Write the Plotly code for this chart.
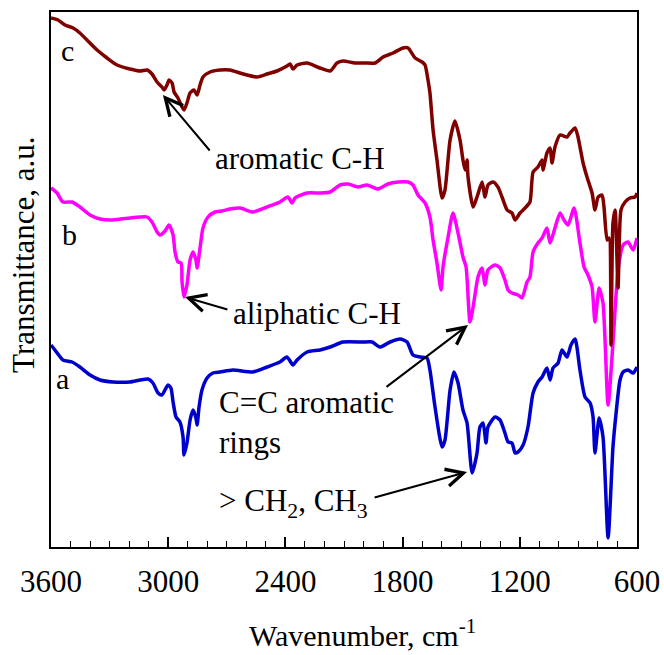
import plotly.graph_objects as go

# ---- data (wavenumber in cm-1, transmittance in a.u.) ----
wn_a = [3600, 3580, 3539, 3492, 3452, 3400, 3349, 3283, 3196, 3144, 3103, 3078, 3052, 3032,
        3001, 2986, 2975, 2960, 2940, 2924, 2919, 2904, 2888, 2873, 2858, 2852, 2842, 2827,
        2801, 2771, 2735, 2668, 2566, 2494, 2428, 2392, 2361, 2340, 2289, 2223, 2171, 2105,
        2003, 1956, 1916, 1864, 1813, 1777, 1747, 1711, 1675, 1660, 1634, 1598, 1583, 1557,
        1537, 1516, 1491, 1470, 1444, 1419, 1404, 1388, 1373, 1363, 1327, 1301, 1276, 1260,
        1240, 1224, 1209, 1183, 1158, 1132, 1107, 1086, 1061, 1045, 1030, 1004, 984, 958,
        938, 917, 892, 866, 840, 825, 815, 794, 774, 748, 723, 707, 687, 671, 646, 620, 600]
t_a = [202, 197, 187, 185, 180, 172, 167, 165, 165, 167, 168, 164, 154, 152,
       162, 159, 145, 130, 125, 110, 92, 104, 127, 137, 129, 122, 140, 157,
       169, 174, 175, 177, 175, 180, 185, 190, 182, 187, 195, 197, 200, 205,
       205, 205, 200, 205, 208, 205, 192, 190, 189, 177, 140, 100, 107, 157,
       175, 164, 137, 124, 74, 94, 120, 124, 104, 120, 130, 127, 114, 105,
       104, 94, 95, 102, 120, 154, 165, 170, 179, 167, 179, 184, 197, 190,
       202, 208, 177, 150, 144, 130, 94, 129, 110, 9, 100, 134, 167, 175, 177, 174, 180]

wn_b = [3600, 3569, 3539, 3492, 3452, 3400, 3349, 3283, 3196, 3144, 3108, 3083, 3057, 3042,
        3016, 2996, 2975, 2965, 2950, 2934, 2929, 2919, 2904, 2888, 2873, 2858, 2852, 2837,
        2822, 2796, 2760, 2724, 2684, 2632, 2566, 2494, 2428, 2387, 2366, 2351, 2289, 2223,
        2171, 2120, 2079, 2028, 1982, 1926, 1875, 1823, 1772, 1747, 1721, 1685, 1660, 1644,
        1624, 1603, 1593, 1567, 1542, 1516, 1491, 1475, 1455, 1439, 1414, 1393, 1378, 1363,
        1327, 1301, 1276, 1260, 1240, 1209, 1189, 1163, 1148, 1132, 1107, 1086, 1061, 1045,
        1020, 994, 974, 953, 922, 892, 871, 851, 830, 815, 794, 774, 748, 723, 697, 671,
        646, 620, 600]
t_b = [359, 354, 345, 345, 340, 332, 328, 327, 329, 330, 330, 325, 315, 312,
       316, 322, 312, 295, 285, 284, 265, 250, 262, 287, 295, 287, 279, 299,
       319, 330, 335, 336, 338, 339, 335, 340, 345, 350, 344, 349, 354, 354,
       355, 362, 363, 360, 362, 358, 363, 365, 365, 362, 352, 344, 330, 307,
       284, 257, 280, 310, 334, 314, 290, 280, 225, 240, 270, 279, 262, 277,
       282, 279, 267, 257, 254, 252, 249, 265, 270, 295, 304, 309, 319, 304,
       319, 334, 327, 322, 339, 304, 280, 272, 260, 225, 259, 244, 142, 204, 277, 302,
       305, 297, 309]

wn_c = [3600, 3564, 3528, 3487, 3452, 3416, 3364, 3313, 3262, 3196, 3144, 3108, 3083, 3057,
        3032, 3021, 3006, 2996, 2980, 2970, 2950, 2929, 2919, 2904, 2888, 2868, 2852, 2837,
        2822, 2786, 2735, 2684, 2632, 2596, 2545, 2494, 2443, 2392, 2376, 2361, 2340, 2289,
        2223, 2171, 2136, 2105, 2044, 1992, 1941, 1900, 1849, 1798, 1772, 1736, 1700, 1685,
        1670, 1660, 1644, 1624, 1598, 1583, 1557, 1532, 1506, 1491, 1480, 1470, 1465, 1439,
        1419, 1393, 1378, 1363, 1337, 1312, 1291, 1265, 1240, 1224, 1199, 1173, 1148, 1132,
        1107, 1086, 1081, 1061, 1045, 1035, 1020, 994, 958, 943, 917, 902, 876, 856, 830,
        815, 799, 779, 769, 753, 743, 733, 723, 712, 697, 682, 661, 636, 610, 600]
t_c = [529, 527, 522, 519, 514, 507, 497, 489, 482, 478, 476, 477, 473, 465,
       460, 457, 462, 467, 464, 455, 449, 440, 437, 444, 454, 457, 452, 462,
       470, 475, 477, 477, 474, 472, 470, 473, 476, 481, 483, 478, 482, 484,
       479, 476, 484, 486, 484, 484, 484, 490, 494, 499, 499, 489, 485, 482,
       467, 454, 417, 387, 349, 357, 407, 426, 407, 387, 377, 387, 370, 340,
       350, 365, 350, 362, 365, 360, 350, 337, 334, 327, 334, 339, 345, 375,
       380, 387, 377, 394, 399, 384, 400, 412, 410, 414, 419, 410, 384, 370, 354,
       337, 350, 352, 340, 307, 309, 202, 324, 337, 259, 337, 345, 349, 350, 354]

series_names = ["a", "b", "c"]
series_colors = ["#0000CC", "#FF00FF", "#800000"]

FONT = "Liberation Serif, Times New Roman, serif"

fig = go.Figure()
for name, xs, ys, col in zip(series_names, [wn_a, wn_b, wn_c], [t_a, t_b, t_c], series_colors):
    fig.add_trace(go.Scatter(x=xs, y=ys, mode="lines", name=name,
                             line=dict(color=col, width=3.5, shape="spline", smoothing=0.6),
                             showlegend=False))

# curve labels
label_pos = {"c": (3518, 497), "b": (3503, 313), "a": (3539, 169)}
for k, (lx, ly) in label_pos.items():
    fig.add_annotation(x=lx, y=ly, text=k, showarrow=False,
                       font=dict(family=FONT, size=30, color="black"),
                       xanchor="center", yanchor="middle")

# text annotations
texts = [
    ("aromatic C-H", 2771, 389),
    ("aliphatic C-H", 2678, 234),
    ("C=C aromatic<br>rings", 2750, 125),
    ("> CH<sub>2</sub>, CH<sub>3</sub>", 2750, 44),
]
for t, tx, ty in texts:
    fig.add_annotation(x=tx, y=ty, text=t, showarrow=False, align="left",
                       font=dict(family=FONT, size=31, color="black"),
                       xanchor="left", yanchor="middle")

# arrows: (head_x, head_y, tail_x, tail_y)
arrows = [
    (3027, 452, 2781, 395),
    (2914, 250, 2689, 237),
    (1465, 222, 1890, 159),
    (1470, 75, 1951, 49),
]
for hx, hy, tx, ty in arrows:
    fig.add_annotation(x=hx, y=hy, ax=tx, ay=ty, axref="x", ayref="y", xref="x", yref="y",
                       text="", showarrow=True, arrowhead=5, arrowsize=1.7,
                       arrowwidth=2, arrowcolor="black")

# axis titles
fig.add_annotation(xref="paper", yref="paper", x=0.531, y=-0.161,
                   text="Wavenumber, cm<sup>-1</sup>", showarrow=False,
                   font=dict(family=FONT, size=30, color="black"),
                   xanchor="center", yanchor="middle")
fig.add_annotation(xref="paper", yref="paper", x=-0.046, y=0.546,
                   text="Transmittance, a.u.", showarrow=False, textangle=-90,
                   font=dict(family=FONT, size=31, color="black"),
                   xanchor="center", yanchor="middle")

fig.update_layout(
    width=664, height=655,
    margin=dict(l=51, r=27, t=12, b=108, autoexpand=False),
    plot_bgcolor="white", paper_bgcolor="white",
    font=dict(family=FONT, color="black"),
)
fig.update_xaxes(
    range=[3600, 600], tickvals=[3600, 3000, 2400, 1800, 1200, 600],
    ticktext=["3600", "3000", "2400", "1800", "1200", "600"],
    ticks="inside", ticklen=10, tickwidth=1.5, tickcolor="black",
    minor=dict(ticks="inside", ticklen=6, tickwidth=1, tickcolor="black", dtick=100, tick0=600),
    showline=True, linewidth=2, linecolor="black", mirror=True,
    showgrid=False, zeroline=False, automargin=False,
    tickfont=dict(family=FONT, size=31, color="black"),
    ticklabelstandoff=6,
)
fig.update_yaxes(
    range=[0, 535], showticklabels=False, ticks="",
    showline=True, linewidth=2, linecolor="black", mirror=True,
    showgrid=False, zeroline=False, automargin=False,
)

fig.write_html("out.html")
